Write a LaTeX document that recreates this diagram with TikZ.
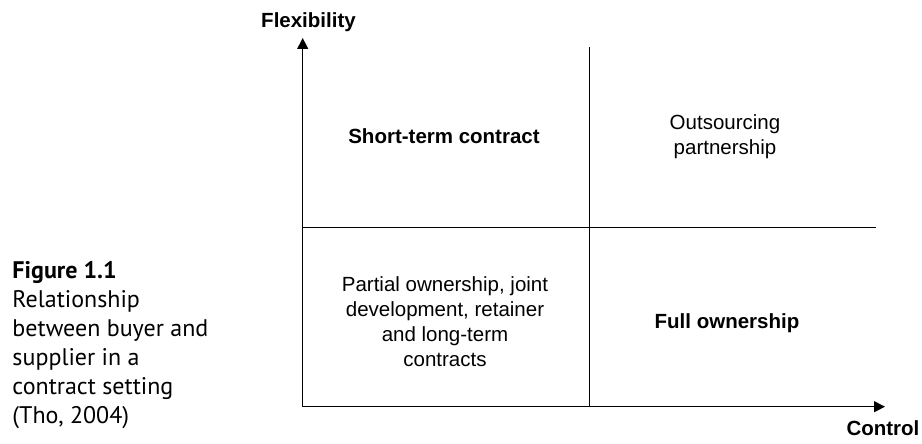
\documentclass[tikz,border=0pt]{standalone}
\usepackage{fontspec}
\setmainfont{Liberation Sans}
\newfontfamily\capfont{PT Sans}
\usetikzlibrary{arrows.meta}

\begin{document}
\begin{tikzpicture}[x=1pt, y=-1pt, line width=1pt,
        cell/.style={inner sep=0pt, align=center, font=\fontsize{20.5}{25}\selectfont},
        axis/.style={-{Triangle[length=11pt,width=11pt]}}]
        \useasboundingbox (0,0) rectangle (922,444);

        \coordinate (origin) at (302.7,406.7);
        \coordinate (ytip) at (302.7,38);
        \coordinate (xtip) at (885,406.7);
        \coordinate (vtop) at (589,47);
        \coordinate (vbot) at (589,406.7);
        \coordinate (hleft) at (302.7,227);
        \coordinate (hright) at (876,227);

        \node (flex) [cell, anchor=base, font=\fontsize{20.5}{25}\selectfont\bfseries] at (308.5,28) {Flexibility};
        \node (control) [cell, anchor=base west, font=\fontsize{20.5}{25}\selectfont\bfseries] at (846,435) {Control};

        \node (short) [cell, anchor=base, font=\fontsize{20.5}{25}\selectfont\bfseries] at (444,143) {Short-term contract};
        \node (outsourcing) [cell] at (725,137) {Outsourcing\\partnership};
        \node (partial) [cell] at (445,322) {Partial ownership, joint\\development, retainer\\and long-term\\contracts};
        \node (full) [cell, anchor=base, font=\fontsize{20.5}{25}\selectfont\bfseries] at (727,328) {Full ownership};

        \node (caption) [inner sep=0pt, anchor=west, align=left, font=\capfont\fontsize{24}{29}\selectfont] at (12,345)
            {\textbf{Figure 1.1}\\Relationship\\between buyer and\\supplier in a\\contract setting\\(Tho, 2004)};

        \draw[axis] (origin) -- (ytip);
        \draw[axis] (origin) -- (xtip);
        \draw (vtop) -- (vbot);
        \draw (hleft) -- (hright);
    \end{tikzpicture}
\end{document}
